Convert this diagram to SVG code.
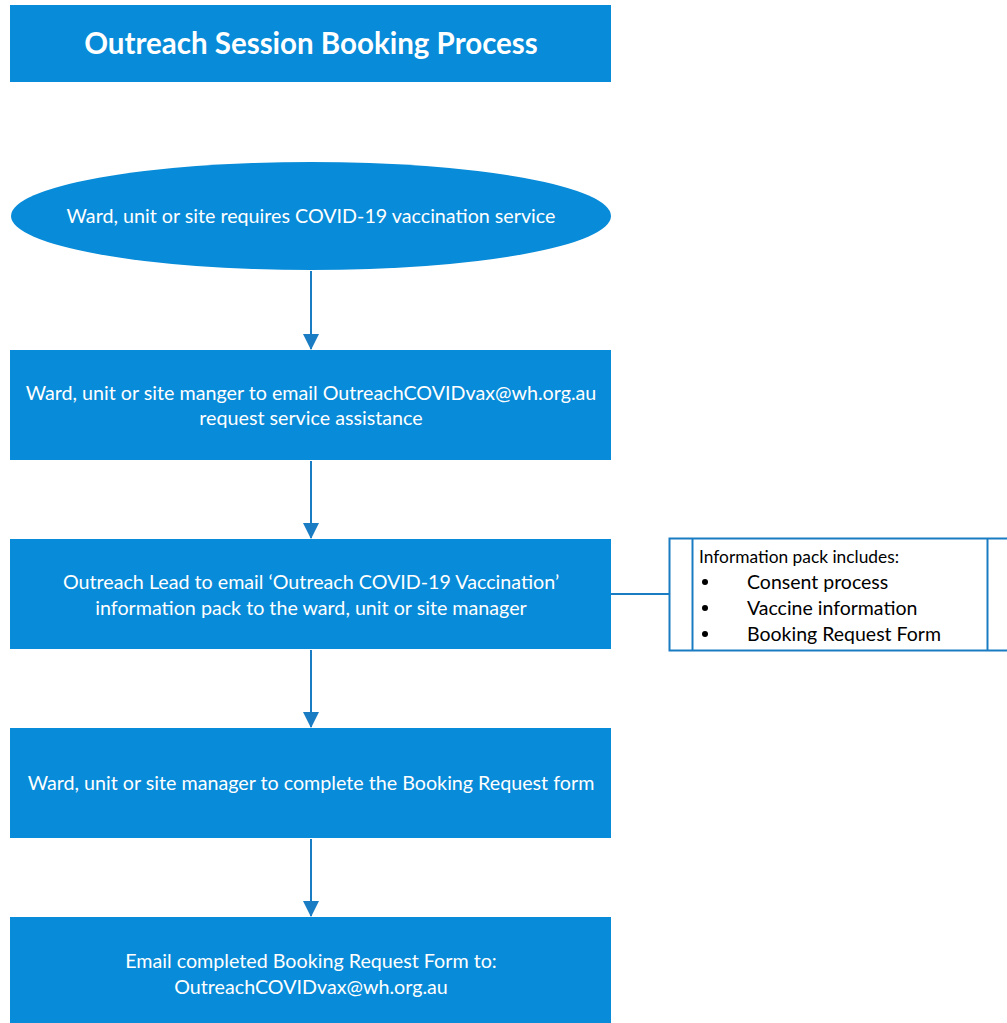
<svg xmlns="http://www.w3.org/2000/svg" width="1007" height="1023" viewBox="0 0 1007 1023">
<defs>
<style>
.box{fill:#088BD8;}
.t{font-family:Lato,"Open Sans",sans-serif;font-size:19.7px;fill:#fff;text-anchor:middle;}
.title{font-family:Lato,"Open Sans",sans-serif;font-size:29.5px;font-weight:bold;fill:#fff;text-anchor:middle;}
.conn{stroke:#1A7DC4;stroke-width:2;fill:none;}
.info{font-family:Lato,"Open Sans",sans-serif;font-size:19.5px;fill:#000;}
.infoh{font-family:Lato,"Open Sans",sans-serif;font-size:18.2px;fill:#000;}
</style>
<marker id="arr2" viewBox="0 0 16 16" markerWidth="16" markerHeight="16" refX="15" refY="8" orient="auto" markerUnits="userSpaceOnUse">
<path d="M0,0 L16,8 L0,16 z" fill="#1A7DC4"/>
</marker>
</defs>
<rect width="1007" height="1023" fill="#fff"/>
<g id="connectors">
<line class="conn" x1="311" y1="271" x2="311" y2="349" marker-end="url(#arr2)"/>
<line class="conn" x1="311" y1="461" x2="311" y2="538" marker-end="url(#arr2)"/>
<line class="conn" x1="311" y1="650" x2="311" y2="727" marker-end="url(#arr2)"/>
<line class="conn" x1="311" y1="839" x2="311" y2="916" marker-end="url(#arr2)"/>
<line class="conn" x1="611" y1="594" x2="669" y2="594"/>
</g>
<g id="title">
<rect class="box" x="10" y="5" width="601" height="77"/>
<text class="title" x="311" y="54">Outreach Session Booking Process</text>
</g>
<g id="start">
<ellipse class="box" cx="311" cy="216" rx="300" ry="54"/>
<text class="t" x="311" y="223">Ward, unit or site requires COVID-19 vaccination service</text>
</g>
<g id="step1">
<rect class="box" x="10" y="350" width="601" height="110"/>
<text class="t" x="311" y="400">Ward, unit or site manger to email OutreachCOVIDvax@wh.org.au</text>
<text class="t" x="311" y="425">request service assistance</text>
</g>
<g id="step2">
<rect class="box" x="10" y="539" width="601" height="110"/>
<text class="t" x="311" y="589">Outreach Lead to email ‘Outreach COVID-19 Vaccination’</text>
<text class="t" x="311" y="615">information pack to the ward, unit or site manager</text>
</g>
<g id="infopack">
<rect x="669.5" y="538.5" width="340" height="112" fill="#fff" stroke="#1A7DC4" stroke-width="2"/>
<line x1="692.5" y1="538" x2="692.5" y2="651" stroke="#1A7DC4" stroke-width="2"/>
<line x1="987.5" y1="538" x2="987.5" y2="651" stroke="#1A7DC4" stroke-width="2"/>
<text class="infoh" x="699" y="563" textLength="200" lengthAdjust="spacingAndGlyphs">Information pack includes:</text>
<circle cx="705" cy="582" r="3"/>
<text class="info" x="747" y="589">Consent process</text>
<circle cx="705" cy="608" r="3"/>
<text class="info" x="747" y="615">Vaccine information</text>
<circle cx="705" cy="634" r="3"/>
<text class="info" x="747" y="641">Booking Request Form</text>
</g>
<g id="step3">
<rect class="box" x="10" y="728" width="601" height="110"/>
<text class="t" x="311" y="790">Ward, unit or site manager to complete the Booking Request form</text>
</g>
<g id="step4">
<rect class="box" x="10" y="917" width="601" height="106"/>
<text class="t" x="311" y="968">Email completed Booking Request Form to:</text>
<text class="t" x="311" y="994">OutreachCOVIDvax@wh.org.au</text>
</g>
</svg>
